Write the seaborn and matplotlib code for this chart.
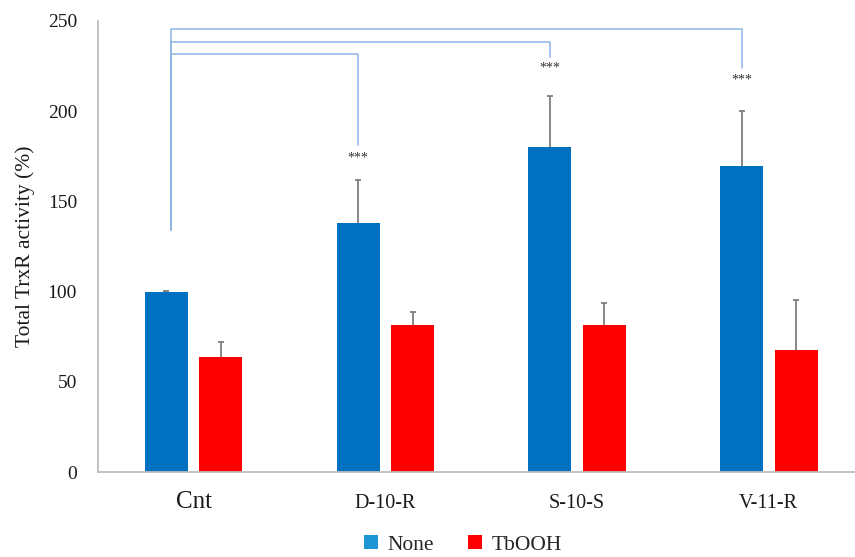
import numpy as np
import pandas as pd
import seaborn as sns
import matplotlib.pyplot as plt
from matplotlib.patches import Patch

# ---- data -------------------------------------------------------------
categories = ["Cnt", "D-10-R", "S-10-S", "V-11-R"]
treatments = ["None", "TbOOH"]
none_mean = [100.0, 138.2, 180.3, 169.8]
tbooh_mean = [63.7, 81.4, 81.4, 67.7]
none_err = [0.4, 23.5, 28.1, 30.4]
tbooh_err = [8.3, 7.2, 12.2, 27.7]
y_ticks = [0, 50, 100, 150, 200, 250]

# significance brackets drawn from the control group
sig_targets = ["D-10-R", "S-10-S", "V-11-R"]
sig_levels = [231.6, 238.4, 245.3]
sig_drops = [181.2, 230.1, 223.7]
sig_star_y = [173.9, 223.7, 217.2]
sig_base = 134.0
sig_text = "***"

# ---- styling ----------------------------------------------------------
sns.set_theme(style="white")
plt.rcParams["font.family"] = ["Liberation Serif", "DejaVu Serif"]

bar_colors = {"None": "#0070C0", "TbOOH": "#FF0000"}
legend_colors = {"None": "#1E96D6", "TbOOH": "#FF0000"}
axis_grey = "#BDBDBD"
err_grey = "#7F7F7F"
bracket_blue = "#8DB4E8"

df = pd.DataFrame({
    "group": categories * 2,
    "treatment": ["None"] * len(categories) + ["TbOOH"] * len(categories),
    "activity": none_mean + tbooh_mean,
    "err": none_err + tbooh_err,
})

fig = plt.figure(figsize=(8.55, 5.57), dpi=100)
W, H = 855, 557
x0_px, x1_px = 97.85, 97.85 + 4 * 191.7
y0_px, y1_px = 472.3, 20.8
ax = fig.add_axes([x0_px / W, 1 - y0_px / H, (x1_px - x0_px) / W, (y0_px - y1_px) / H])

sns.barplot(
    data=df, x="group", y="activity", hue="treatment",
    order=categories, hue_order=treatments,
    palette=bar_colors, saturation=1, errorbar=None, width=0.568, gap=0.21,
    linewidth=0, legend=False, ax=ax,
)

# upper-only error bars at each bar centre
for cont, level in zip(ax.containers, treatments):
    errs = df[df["treatment"] == level].set_index("group").loc[categories, "err"].values
    xs = np.array([b.get_x() + b.get_width() / 2 for b in cont])
    tops = np.array([b.get_height() for b in cont])
    eb = ax.errorbar(xs, tops, yerr=[np.zeros(len(errs)), errs], fmt="none",
                     ecolor=err_grey, elinewidth=1.3, capsize=2.5, capthick=1.3, zorder=3)
    # keep only the cap at the top of each whisker
    for cap in eb[1]:
        if np.allclose(np.asarray(cap.get_ydata(), dtype=float), tops):
            cap.set_visible(False)

# significance brackets
x_ctrl = categories.index("Cnt") - 0.12
for tgt, lvl, drop, sy in zip(sig_targets, sig_levels, sig_drops, sig_star_y):
    xt = categories.index(tgt) - 0.142
    ax.plot([x_ctrl, x_ctrl, xt, xt], [sig_base, lvl, lvl, drop],
            color=bracket_blue, lw=1.1, clip_on=False, zorder=2)
    ax.text(xt, sy, sig_text, ha="center", va="center", fontsize=10, color="#333333")

ax.set_xlim(-0.5, len(categories) - 0.5)
ax.set_ylim(0, 250)
ax.set_yticks(y_ticks)
ax.set_yticklabels([str(v) for v in y_ticks], fontsize=14, color="#1a1a1a")
ax.set_xticks(range(len(categories)))
ax.set_xticklabels(categories, fontsize=14.5, color="#1a1a1a")
for lab in ax.get_xticklabels():
    lab.set_va("baseline")
    if lab.get_text() == "Cnt":
        lab.set_fontsize(18)

ax.tick_params(axis="y", length=0, pad=15)
ax.tick_params(axis="x", length=0, pad=26)
ax.set_xlabel("")
ax.set_ylabel("Total TrxR activity (%)", fontsize=15.5, color="#1a1a1a", labelpad=9)

for side in ("top", "right"):
    ax.spines[side].set_visible(False)
for side in ("left", "bottom"):
    ax.spines[side].set_color(axis_grey)
    ax.spines[side].set_linewidth(1.3)

handles = [Patch(facecolor=legend_colors[t], edgecolor="none", label=t) for t in treatments]
fig.legend(handles=handles, loc="center", bbox_to_anchor=(0.5415, 0.022), ncol=2,
           frameon=False, fontsize=15.5, handlelength=0.65, handleheight=0.65,
           handletextpad=0.45, columnspacing=1.6)

fig.savefig("out.png", dpi=100)
